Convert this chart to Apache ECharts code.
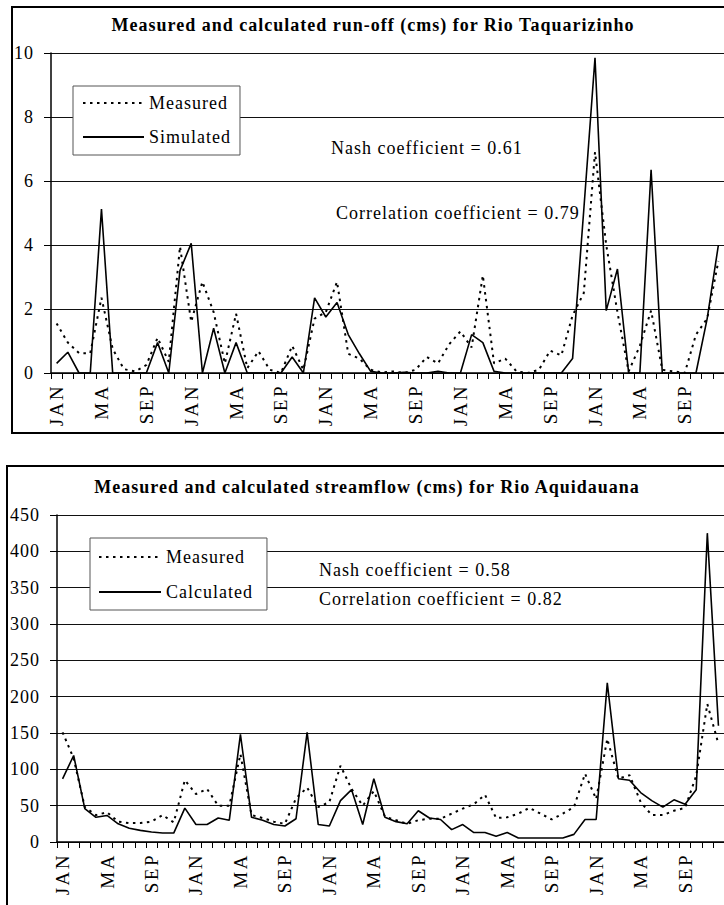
<!DOCTYPE html>
<html><head><meta charset="utf-8">
<script src="https://cdn.jsdelivr.net/npm/echarts@6/dist/echarts.min.js"></script>
<style>
html,body{margin:0;padding:0;background:#fff;}
#c{width:724px;height:905px;}
#c text{letter-spacing:1px;}
#c text[style*="19px"]{letter-spacing:2.5px;}
</style></head><body><div id="c"></div>
<script>
// ---- data ----
var monthNames = ['JAN','FEB','MAR','APR','MAY','JUN','JUL','AUG','SEP','OCT','NOV','DEC'];
var monthTickLabels = ['JAN','','','','MA','','','','SEP','','',''];
var years = [1, 2, 3, 4, 5];
var categories = [];
years.forEach(function (y) { monthNames.forEach(function (m) { categories.push(m + ' ' + y); }); });

var topTitle = 'Measured and calculated run-off (cms) for Rio Taquarizinho';
var bottomTitle = 'Measured and calculated streamflow (cms) for Rio Aquidauana';
var topSeriesNames = ['Measured', 'Simulated'];
var bottomSeriesNames = ['Measured', 'Calculated'];
var topStats = ['Nash coefficient = 0.61', 'Correlation coefficient = 0.79'];
var bottomStats = ['Nash coefficient = 0.58', 'Correlation coefficient = 0.82'];

var topMeasured = [1.55,0.95,0.62,0.62,2.35,0.75,0.12,0.05,0.25,1.1,0.35,3.95,
  1.6,2.85,1.9,0.3,1.85,0.15,0.68,0.1,0,0.85,0.1,1.7,
  1.9,2.85,0.6,0.45,0.1,0.02,0.05,0,0.1,0.5,0.3,0.9,
  1.3,0.8,3.05,0.3,0.45,0.05,0,0.1,0.7,0.55,1.8,2.5,
  6.9,4.0,1.9,0.05,0.85,1.95,0.1,0.05,0,1.2,1.7,3.5];
var topSimulated = [0.3,0.65,0,0,5.12,0,0,0,0,0.95,0,3.2,
  4.05,0,1.4,0,0.95,0,0,0,0,0.5,0,2.35,
  1.75,2.2,1.2,0.6,0.05,0,0,0.02,0,0,0.05,0,
  0,1.2,0.95,0.05,0,0,0,0,0,0,0.45,5.1,
  9.85,1.95,3.25,0,0,6.35,0,0,0,0,1.7,4.0];
var bottomMeasured = [151,115,48,37,41,28,26,26,28,37,27,85,
  66,73,50,50,121,37,33,28,25,60,75,48,
  55,105,73,50,70,35,30,25,30,32,32,39,
  46,52,65,33,34,39,47,39,31,39,48,94,
  59,142,87,92,55,37,37,43,47,91,190,135];
var bottomCalculated = [87,119,46,34,36.5,25,19,16,13.7,12.3,12.3,46.6,
  24,24,33,30,148,34,30,24,22,32,151,24,
  22,57,72,24,87,34,28,25,43,33,31,17,
  24,13,13,8,13,5.5,5.5,5.5,5.5,5.5,10.5,31,
  31,219,87,85,68,57,48,58,52,72,425,160];
var topYAxis = {min: 0, max: 10, interval: 2};
var bottomYAxis = {min: 0, max: 450, interval: 50};

// ---- styles ----
var FF = '"Liberation Serif", "Times New Roman", serif';
var dottedStyle = {color: '#000', width: 2, type: [2.5, 4.5]};
var solidStyle = {color: '#000', width: 1.6, type: 'solid'};

function xAxis(gridIndex) {
  return {
    type: 'category', gridIndex: gridIndex, data: categories, boundaryGap: true,
    axisLine: {lineStyle: {color: '#000', width: 1.5}},
    axisTick: {show: true, interval: 0, length: 6, lineStyle: {color: '#000', width: 1}},
    axisLabel: {interval: 0, rotate: 90, margin: 11, color: '#000', fontFamily: FF, fontSize: 19,
      formatter: function (v, i) { return monthTickLabels[i % 12]; }},
    splitLine: {show: false}
  };
}
function yAxis(gridIndex, cfg) {
  return {
    type: 'value', gridIndex: gridIndex, min: cfg.min, max: cfg.max, interval: cfg.interval,
    axisLine: {show: true, lineStyle: {color: '#000', width: 1.5}},
    axisTick: {show: true, length: 7, lineStyle: {color: '#000', width: 1}},
    axisLabel: {color: '#000', fontFamily: FF, fontSize: 18, margin: 17},
    splitLine: {show: true, lineStyle: {color: '#111', width: 1}}
  };
}
function legend(left, top, names, pad, gap, w) {
  return {
    left: left, top: top, orient: 'vertical', data: names, itemWidth: w, itemHeight: 14,
    itemGap: gap, padding: pad, backgroundColor: '#fff', borderColor: '#555', borderWidth: 1,
    borderRadius: 0, selectedMode: false,
    itemStyle: {opacity: 0},
    textStyle: {color: '#000', fontFamily: FF, fontSize: 18}
  };
}
function txt(x, y, s, opts) {
  opts = opts || {};
  return {type: 'text', x: x, y: y, z: 100, silent: true,
    style: {text: s, fill: '#000', font: (opts.bold ? 'bold ' : '') + (opts.size || 18) + 'px ' + FF,
      textAlign: opts.align || 'left', textVerticalAlign: 'middle'}};
}

var chart = echarts.init(document.getElementById('c'), null, {renderer: 'svg'});
chart.setOption({
  animation: false,
  backgroundColor: '#fff',
  grid: [
    {left: 51, top: 53, width: 680, height: 320},
    {left: 57, top: 515, width: 672, height: 327}
  ],
  xAxis: [xAxis(0), xAxis(1)],
  yAxis: [yAxis(0, topYAxis), yAxis(1, bottomYAxis)],
  legend: [
    legend(73, 86, topSeriesNames, [8, 18, 9, 9], 16, 61),
    legend(90, 538, bottomSeriesNames, [10, 24, 9, 8], 17, 62)
  ],
  graphic: [
    {type: 'rect', silent: true, z: 100, shape: {x: 12, y: 7, width: 740, height: 426},
      style: {fill: 'none', stroke: '#000', lineWidth: 2}},
    {type: 'rect', silent: true, z: 100, shape: {x: 7, y: 466, width: 740, height: 470},
      style: {fill: 'none', stroke: '#000', lineWidth: 2}},
    txt(373, 25, topTitle, {bold: true, align: 'center'}),
    txt(367, 487, bottomTitle, {bold: true, align: 'center'}),
    txt(331, 148, topStats[0]),
    txt(336, 213, topStats[1]),
    txt(319, 570, bottomStats[0]),
    txt(319, 599, bottomStats[1])
  ],
  series: [
    {type: 'line', name: topSeriesNames[0], xAxisIndex: 0, yAxisIndex: 0, data: topMeasured,
      symbol: 'none', lineStyle: dottedStyle, itemStyle: {color: '#000'}, z: 3},
    {type: 'line', name: topSeriesNames[1], xAxisIndex: 0, yAxisIndex: 0, data: topSimulated,
      symbol: 'none', lineStyle: solidStyle, itemStyle: {color: '#000'}, z: 2},
    {type: 'line', name: bottomSeriesNames[0], xAxisIndex: 1, yAxisIndex: 1, data: bottomMeasured,
      symbol: 'none', lineStyle: dottedStyle, itemStyle: {color: '#000'}, z: 3},
    {type: 'line', name: bottomSeriesNames[1], xAxisIndex: 1, yAxisIndex: 1, data: bottomCalculated,
      symbol: 'none', lineStyle: solidStyle, itemStyle: {color: '#000'}, z: 2}
  ]
});
</script></body></html>
